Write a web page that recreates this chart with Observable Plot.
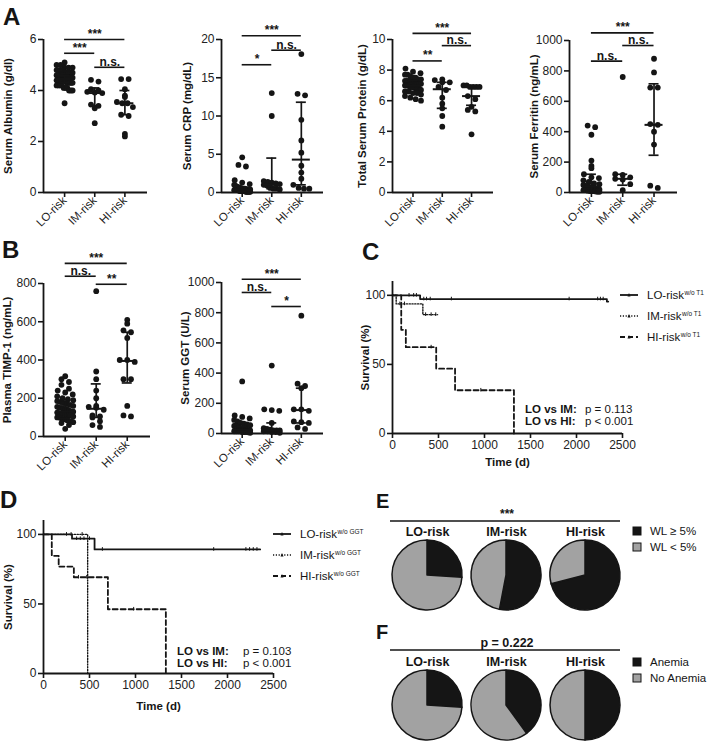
<!DOCTYPE html>
<html><head><meta charset="utf-8">
<script src="https://cdn.jsdelivr.net/npm/d3@7"></script>
<script src="https://cdn.jsdelivr.net/npm/@observablehq/plot@0.6"></script>
<style>
body{margin:0;background:#fff;}
#fig{position:relative;width:709px;height:743px;overflow:hidden;background:#fff;font-family:"Liberation Sans",Arial,Helvetica,sans-serif;color:#151515;}
</style></head><body><div id="fig"></div>
<script>
// ---------- categories ----------
const groupNames = ["LO-risk", "IM-risk", "HI-risk"];

// ---------- A: Serum albumin (g/dl) ----------
const albuminLO = [5.1,5.0,5.0,4.9,4.9,4.9,4.8,4.8,4.8,4.8,4.7,4.7,4.7,4.7,4.7,4.6,4.6,4.6,4.6,4.6,4.6,4.5,4.5,4.5,4.5,4.5,4.5,4.5,4.4,4.4,4.4,4.4,4.4,4.4,4.4,4.3,4.3,4.3,4.3,4.3,4.2,4.2,4.2,4.2,4.1,4.1,4.1,4.0,4.0,4.0,3.5];
const albuminIM = [4.42,4.35,4.05,3.95,3.92,3.9,3.45,3.4,3.3,2.72,4.0];
const albuminHI = [4.45,4.45,4.05,3.8,3.75,3.55,3.5,3.5,3.35,3.05,3.0,2.3,2.2];
const albuminMedian = [4.45, 3.9, 3.5];
const albuminQ1 = [4.3, 3.4, 3.05];
const albuminQ3 = [4.6, 4.1, 4.0];
const albuminBrackets = [[0,2,6.0,"***"],[0,1,5.46,"***"],[1,2,4.91,"n.s."]];

// ---------- A: Serum CRP (mg/dL) ----------
const crpLO = [4.6,3.6,3.4,1.6,1.3,1.1,1.0,0.9,0.8,0.7,0.7,0.6,0.6,0.5,0.5,0.5,0.5,0.4,0.4,0.4,0.4,0.4,0.3,0.3,0.3,0.3,0.3,0.3,0.2,0.2,0.2,0.2,0.2,0.2,0.2,0.1,0.1,0.1,0.1,0.1,0.1];
const crpIM = [13.0,10.0,1.5,1.4,1.3,1.2,1.1,1.0,0.9,0.6,0.5,0.5,0.4];
const crpHI = [18.1,12.9,12.7,9.5,6.8,5.2,3.5,2.6,1.8,1.0,0.6,0.5,0.5];
const crpMedian = [0.3, 1.0, 4.3];
const crpQ1 = [0.15, 0.5, 1.0];
const crpQ3 = [0.6, 4.5, 11.8];
const crpBrackets = [[0,2,20.5,"***"],[1,2,18.6,"n.s."],[0,1,16.7,"*"]];

// ---------- A: Total serum protein (g/dL) ----------
const proteinLO = [8.1,7.9,7.8,7.7,7.7,7.6,7.5,7.5,7.4,7.4,7.3,7.3,7.3,7.2,7.2,7.2,7.1,7.1,7.1,7.1,7.0,7.0,7.0,7.0,7.0,7.0,6.9,6.9,6.9,6.9,6.8,6.8,6.8,6.8,6.7,6.7,6.6,6.6,6.5,6.5,6.4,6.3,6.2,6.1,6.0];
const proteinIM = [7.4,7.35,7.2,7.2,6.9,6.7,6.2,5.8,5.5,5.0,4.3];
const proteinHI = [7.0,7.0,6.9,6.9,6.9,6.9,6.3,6.1,5.6,5.4,5.3,3.8];
const proteinMedian = [7.0, 6.75, 6.3];
const proteinQ1 = [6.8, 5.5, 5.7];
const proteinQ3 = [7.3, 7.2, 6.9];
const proteinBrackets = [[0,2,10.4,"***"],[1,2,9.6,"n.s."],[0,1,8.6,"**"]];

// ---------- A: Serum ferritin (ng/mL) ----------
const ferritinLO = [440,430,380,210,175,160,120,100,95,80,70,60,55,50,45,40,40,35,30,30,25,25,20,20,15,15,12,10,10,8,5,5];
const ferritinIM = [760,120,115,100,90,85,55,15];
const ferritinHI = [880,790,690,690,450,445,400,315,45,30];
const ferritinMedian = [40, 90, 445];
const ferritinQ1 = [12, 48, 245];
const ferritinQ3 = [120, 120, 715];
const ferritinBrackets = [[0,2,1050,"***"],[1,2,967,"n.s."],[0,1,864,"n.s."]];

// ---------- B: Plasma TIMP-1 (ng/mL) ----------
const timpLO = [315,300,285,270,250,240,230,220,210,200,195,190,185,180,175,170,165,160,155,150,150,145,140,140,135,130,130,125,120,120,115,110,110,105,100,100,95,90,90,85,80,80,75,70,60,40];
const timpIM = [760,340,300,240,200,160,155,150,140,110,105,100,80,60,50];
const timpHI = [610,590,555,545,515,400,400,390,300,300,160,110,105];
const timpMedian = [130, 145, 395];
const timpQ1 = [95, 100, 280];
const timpQ3 = [185, 275, 545];
const timpBrackets = [[0,2,905,"***"],[0,1,838,"n.s."],[1,2,796,"**"]];

// ---------- B: Serum GGT (U/L) ----------
const ggtLO = [345,120,110,100,90,80,70,65,60,55,50,50,45,45,40,40,35,35,30,30,30,30,25,25,25,20,20,20,20,15,15,15,15,10,10,10,8,5];
const ggtIM = [450,160,155,150,70,35,30,25,20,20,20,15,15,10,10,5];
const ggtHI = [780,330,315,300,160,160,150,80,75,70,40,30];
const ggtMedian = [25, 20, 155];
const ggtQ1 = [15, 10, 70];
const ggtQ3 = [45, 70, 300];
const ggtBrackets = [[0,2,1022,"***"],[0,1,934,"n.s."],[1,2,841,"*"]];

// ---------- C: Kaplan-Meier w/o T1 ----------
const kmTicksX = [0, 500, 1000, 1500, 2000, 2500];
const kmTicksY = [0, 50, 100];
const cLoTime = [0, 300, 2330, 2345];
const cLoSurv = [100, 97.3, 95.5, 95.5];
const cLoCensor = [180, 230, 260, 340, 370, 410, 640, 1920, 2230, 2260, 2290];
const cImTime = [0, 40, 330, 490];
const cImSurv = [100, 93.8, 86.0, 86.0];
const cImCensor = [80, 130, 360, 420, 470];
const cHiTime = [0, 95, 145, 475, 680, 1320];
const cHiSurv = [100, 75, 62.5, 46.9, 31.3, 0];
const cHiCensor = [420, 960];

// ---------- D: Kaplan-Meier w/o GGT ----------
const dLoTime = [0, 310, 555, 2355];
const dLoSurv = [100, 96.9, 89.2, 89.2];
const dLoCensor = [250, 360, 400, 440, 500, 640, 1850, 2200, 2240, 2280, 2320];
const dImTime = [0, 480];
const dImSurv = [100, 0];
const dImCensor = [300, 420];
const dHiTime = [0, 90, 165, 330, 700, 1330];
const dHiSurv = [100, 84.6, 76.9, 69.2, 46.2, 0];
const dHiCensor = [380, 470, 980];

// ---------- E / F: pies (% black slice) ----------
const weightLossShare = [26, 53, 71];
const anemiaShare = [26, 40, 50];

// ======================================================
const FONT = '"Liberation Sans", Arial, Helvetica, sans-serif';
const INK = "#151515";
const GRAY = "#a2a2a2";
const R = 2.9;
const STYLE = {fontFamily: FONT, fontSize: "11.5px", color: INK, background: "transparent", overflow: "visible"};
const fig = document.getElementById("fig");
function place(node, left, top) {
  node.style.position = "absolute";
  node.style.left = left + "px";
  node.style.top = top + "px";
  node.style.maxWidth = "none";
  fig.appendChild(node);
}

function swarmOffsets(vals, pxY) {
  const rowH = 2 * R * 0.95, gap = 7.5, maxHalf = 8;
  const bins = new Map();
  vals.forEach((v, i) => {
    const k = Math.round(v * pxY / rowH);
    if (!bins.has(k)) bins.set(k, []);
    bins.get(k).push(i);
  });
  const off = new Array(vals.length).fill(0);
  for (const idx of bins.values()) {
    const n = idx.length;
    if (n < 2) continue;
    const s = Math.min(gap, 2 * maxHalf / (n - 1));
    idx.forEach((i, j) => off[i] = (j - (n - 1) / 2) * s);
  }
  return off;
}

function scatterPanel(c) {
  const xd = [-0.7, 2.75];
  const pxX = (c.xEnd - c.axisX) / (xd[1] - xd[0]);
  const pxY = (c.yBottom - c.yTop) / c.ymax;
  const pts = c.groups.flatMap((vals, g) => {
    const off = swarmOffsets(vals, pxY);
    return vals.map((v, k) => ({x: g + off[k] / pxX, y: v}));
  });
  const stats = c.median.map((m, g) => ({g, m, lo: c.q1[g], hi: c.q3[g]}));
  const br = c.brackets.map(([a, b, y, t]) => ({a, b, y, t}));
  const svg = Plot.plot({
    width: c.width, height: c.height,
    marginLeft: c.axisX - c.left, marginRight: c.left + c.width - c.xEnd,
    marginTop: c.yTop - c.top, marginBottom: c.top + c.height - c.yBottom,
    x: {domain: xd, axis: null}, y: {domain: [0, c.ymax], axis: null},
    style: STYLE,
    marks: [
      Plot.ruleX([xd[0]], {stroke: INK, strokeWidth: 1.8}),
      Plot.ruleY([0], {stroke: INK, strokeWidth: 1.8}),
      Plot.axisY({ticks: c.ticks, tickSize: 5, tickPadding: 2, label: null, strokeWidth: 1.6, tickFormat: d => String(d), fill: "#222", fontSize: 12}),
      Plot.axisX({ticks: [0, 1, 2], tickFormat: i => groupNames[i], tickRotate: -45, tickSize: 5, tickPadding: 1, label: null, strokeWidth: 1.6, fill: "#222", fontSize: 11.5}),
      Plot.dot(pts, {x: "x", y: "y", r: R, fill: INK}),
      Plot.ruleX(stats, {x: "g", y1: "lo", y2: "hi", stroke: INK, strokeWidth: 1.7}),
      Plot.ruleY(stats, {y: "m", x1: d => d.g - 9 / pxX, x2: d => d.g + 9 / pxX, stroke: INK, strokeWidth: 2}),
      Plot.ruleY(stats, {y: "lo", x1: d => d.g - 5 / pxX, x2: d => d.g + 5 / pxX, stroke: INK, strokeWidth: 1.7}),
      Plot.ruleY(stats, {y: "hi", x1: d => d.g - 5 / pxX, x2: d => d.g + 5 / pxX, stroke: INK, strokeWidth: 1.7}),
      Plot.ruleY(br, {y: "y", x1: "a", x2: "b", stroke: INK, strokeWidth: 1.6}),
      Plot.text(br, {x: d => (d.a + d.b) / 2, y: "y", text: "t", lineAnchor: "bottom", dy: -1.5, fontWeight: "bold", fontSize: 12, fill: INK}),
      Plot.text([c.label], {frameAnchor: "left", textAnchor: "middle", lineAnchor: "middle", rotate: -90, dx: c.labelDx, fontWeight: "bold", fontSize: 11.5, fill: INK})
    ]
  });
  place(svg, c.left, c.top);
}

function stepAt(times, surv, t) {
  let v = surv[0];
  times.forEach((tt, i) => { if (tt <= t) v = surv[i]; });
  return v;
}

function kmPanel(c) {
  const marks = [
    Plot.ruleX([0], {stroke: INK, strokeWidth: 1.8}),
    Plot.ruleY([0], {stroke: INK, strokeWidth: 1.8}),
    Plot.axisY({ticks: kmTicksY, tickSize: 5, tickPadding: 2, label: null, strokeWidth: 1.6, tickFormat: d => String(d), fill: "#222", fontSize: 12}),
    Plot.axisX({ticks: kmTicksX, tickSize: 5, tickPadding: 2, label: null, strokeWidth: 1.6, tickFormat: d => String(d), fill: "#222", fontSize: 12})
  ];
  c.series.forEach(s => {
    const pts = s.times.map((t, i) => ({t, s: s.surv[i]}));
    marks.push(Plot.line(pts, {x: "t", y: "s", curve: "step-after", stroke: INK, strokeWidth: s.w, strokeDasharray: s.dash}));
    const cens = s.censor.map(t => ({t, s: stepAt(s.times, s.surv, t)}));
    marks.push(Plot.ruleX(cens, {x: "t", y1: d => d.s - 1.3, y2: d => d.s + 1.3, stroke: INK, strokeWidth: 1}));
  });
  marks.push(Plot.text(["Survival (%)"], {frameAnchor: "left", textAnchor: "middle", lineAnchor: "middle", rotate: -90, dx: c.labelDx, fontWeight: "bold", fontSize: 11.5, fill: INK}));
  marks.push(Plot.text(["Time (d)"], {frameAnchor: "bottom", lineAnchor: "middle", dy: c.timeDy, fontWeight: "bold", fontSize: 11.5, fill: INK}));
  const svg = Plot.plot({
    width: c.width, height: c.height,
    marginLeft: c.axisX - c.left, marginRight: c.left + c.width - c.xEnd,
    marginTop: c.yTop - c.top, marginBottom: c.top + c.height - c.yBottom,
    x: {domain: [0, 2500], axis: null}, y: {domain: [0, 110], axis: null},
    style: STYLE, marks
  });
  place(svg, c.left, c.top);
}

function pieMark(shares) {
  return (index, scales, values, dimensions) => {
    const g = d3.create("svg:g");
    const r = 35;
    const cy = dimensions.height - dimensions.marginBottom - r;
    const arc = d3.arc().innerRadius(0).outerRadius(r);
    shares.forEach((p, i) => {
      const arcs = d3.pie().sort(null)([p, 100 - p]);
      g.append("g").attr("transform", `translate(${scales.x(i)},${cy})`)
        .selectAll("path").data(arcs).join("path")
        .attr("d", arc)
        .attr("fill", (d, j) => j ? GRAY : INK)
        .attr("stroke", INK).attr("stroke-width", 1.5).attr("stroke-linejoin", "round");
    });
    return g.node();
  };
}

function piePanel(left, top, shares) {
  const svg = Plot.plot({
    width: 260, height: 94, marginLeft: 47, marginRight: 55, marginTop: 0, marginBottom: 6,
    x: {domain: [0, 2], axis: null},
    style: STYLE,
    marks: [
      Plot.text(groupNames, {x: (d, i) => i, frameAnchor: "top", lineAnchor: "middle", dy: 9, fontWeight: "bold", fontSize: 12.5, fill: INK}),
      pieMark(shares)
    ]
  });
  place(svg, left, top);
}

// ---------- panels ----------
scatterPanel({left: 0, top: 0, width: 170, height: 245, axisX: 43, yTop: 39, yBottom: 192, xEnd: 147, ymax: 6,
  ticks: [0, 2, 4, 6], label: "Serum Albumin (g/dl)", labelDx: -35,
  groups: [albuminLO, albuminIM, albuminHI], median: albuminMedian, q1: albuminQ1, q3: albuminQ3, brackets: albuminBrackets});
scatterPanel({left: 178, top: 0, width: 170, height: 245, axisX: 221, yTop: 39, yBottom: 192, xEnd: 323, ymax: 20,
  ticks: [0, 5, 10, 15, 20], label: "Serum CRP (mg/dL)", labelDx: -34,
  groups: [crpLO, crpIM, crpHI], median: crpMedian, q1: crpQ1, q3: crpQ3, brackets: crpBrackets});
scatterPanel({left: 355, top: 0, width: 170, height: 245, axisX: 392, yTop: 39, yBottom: 192, xEnd: 493, ymax: 10,
  ticks: [0, 2, 4, 6, 8, 10], label: "Total Serum Protein (g/dL)", labelDx: -30,
  groups: [proteinLO, proteinIM, proteinHI], median: proteinMedian, q1: proteinQ1, q3: proteinQ3, brackets: proteinBrackets});
scatterPanel({left: 527, top: 0, width: 182, height: 245, axisX: 569, yTop: 40, yBottom: 192, xEnd: 677, ymax: 1000,
  ticks: [0, 200, 400, 600, 800, 1000], label: "Serum Ferritin (ng/mL)", labelDx: -35,
  groups: [ferritinLO, ferritinIM, ferritinHI], median: ferritinMedian, q1: ferritinQ1, q3: ferritinQ3, brackets: ferritinBrackets});
scatterPanel({left: 0, top: 240, width: 170, height: 250, axisX: 43, yTop: 283, yBottom: 436, xEnd: 150, ymax: 800,
  ticks: [0, 200, 400, 600, 800], label: "Plasma TIMP-1 (ng/mL)", labelDx: -36,
  groups: [timpLO, timpIM, timpHI], median: timpMedian, q1: timpQ1, q3: timpQ3, brackets: timpBrackets});
scatterPanel({left: 178, top: 240, width: 170, height: 250, axisX: 221, yTop: 282, yBottom: 433, xEnd: 323, ymax: 1000,
  ticks: [0, 200, 400, 600, 800, 1000], label: "Serum GGT (U/L)", labelDx: -36,
  groups: [ggtLO, ggtIM, ggtHI], median: ggtMedian, q1: ggtQ1, q3: ggtQ3, brackets: ggtBrackets});

const solid = {dash: undefined, w: 1.8}, dotted = {dash: "1.2,1.6", w: 1.4}, dashed = {dash: "5,3", w: 1.8};
kmPanel({left: 355, top: 270, width: 275, height: 200, axisX: 392, yTop: 281, yBottom: 433, xEnd: 622, labelDx: -27, timeDy: 29,
  series: [
    {times: cLoTime, surv: cLoSurv, censor: cLoCensor, ...solid},
    {times: cImTime, surv: cImSurv, censor: cImCensor, ...dotted},
    {times: cHiTime, surv: cHiSurv, censor: cHiCensor, ...dashed}
  ]});
kmPanel({left: 0, top: 512, width: 285, height: 205, axisX: 43, yTop: 520, yBottom: 673, xEnd: 273, labelDx: -35, timeDy: 33,
  series: [
    {times: dLoTime, surv: dLoSurv, censor: dLoCensor, ...solid},
    {times: dImTime, surv: dImSurv, censor: dImCensor, ...dotted},
    {times: dHiTime, surv: dHiSurv, censor: dHiCensor, ...dashed}
  ]});

piePanel(380, 522, weightLossShare);
piePanel(380, 652, anemiaShare);

// ---------- overlay: panel letters, legends, annotations ----------
const ov = d3.create("svg").attr("width", 709).attr("height", 743)
  .style("position", "absolute").style("left", "0px").style("top", "0px")
  .style("font-family", FONT).style("pointer-events", "none").attr("fill", INK);
[["A", 3, 25, 24], ["B", 2, 258, 24], ["C", 362, 260, 24], ["D", 0, 508, 24], ["E", 376, 508, 20], ["F", 376, 639, 20]]
  .forEach(([t, x, y, s]) => ov.append("text").attr("x", x).attr("y", y).attr("font-size", s).attr("font-weight", "bold").text(t));

function kmLegend(x0, y0, gap, sup) {
  [solid, dotted, dashed].forEach((st, i) => {
    const y = y0 + i * gap;
    ov.append("line").attr("x1", x0).attr("x2", x0 + 18).attr("y1", y).attr("y2", y)
      .attr("stroke", INK).attr("stroke-width", st.w).attr("stroke-dasharray", st.dash || null);
    ov.append("path").attr("d", `M${x0 + 7.5},${y + 1.5}L${x0 + 9},${y - 2}L${x0 + 10.5},${y + 1.5}Z`).attr("fill", INK);
    const t = ov.append("text").attr("x", x0 + 27).attr("y", y + 4).attr("font-size", 11.5).text(groupNames[i]);
    t.append("tspan").attr("font-size", 6.5).attr("dy", -4.5).attr("dx", 0.5).text(sup);
  });
}
kmLegend(620, 295, 21, "w/o T1");
kmLegend(273, 534, 21, "w/o GGT");

function pText(x, xp, y, rows) {
  rows.forEach(([a, b], i) => {
    ov.append("text").attr("x", x).attr("y", y + i * 12).attr("font-size", 11.5).attr("font-weight", "bold").text(a);
    ov.append("text").attr("x", xp).attr("y", y + i * 12).attr("font-size", 11.5).text(b);
  });
}
pText(525, 585, 413, [["LO vs IM:", "p = 0.113"], ["LO vs HI:", "p < 0.001"]]);
pText(177, 243, 655, [["LO vs IM:", "p = 0.103"], ["LO vs HI:", "p < 0.001"]]);

function pieHeader(label, yLine, size) {
  ov.append("line").attr("x1", 390).attr("x2", 620).attr("y1", yLine).attr("y2", yLine).attr("stroke", INK).attr("stroke-width", 1.6);
  ov.append("text").attr("x", 507).attr("y", yLine - 3.5).attr("text-anchor", "middle").attr("font-size", size).attr("font-weight", "bold").text(label);
}
pieHeader("***", 521, 12);
pieHeader("p = 0.222", 650, 12.5);

function pieLegend(y0, labels) {
  labels.forEach((l, i) => {
    const y = y0 + i * 16;
    ov.append("rect").attr("x", 633).attr("y", y - 4).attr("width", 8).attr("height", 8)
      .attr("fill", i ? GRAY : INK).attr("stroke", INK).attr("stroke-width", 1);
    ov.append("text").attr("x", 650).attr("y", y + 4).attr("font-size", 11.5).text(l);
  });
}
pieLegend(531, ["WL \u2265 5%", "WL < 5%"]);
pieLegend(662, ["Anemia", "No Anemia"]);

fig.appendChild(ov.node());
</script></body></html>
